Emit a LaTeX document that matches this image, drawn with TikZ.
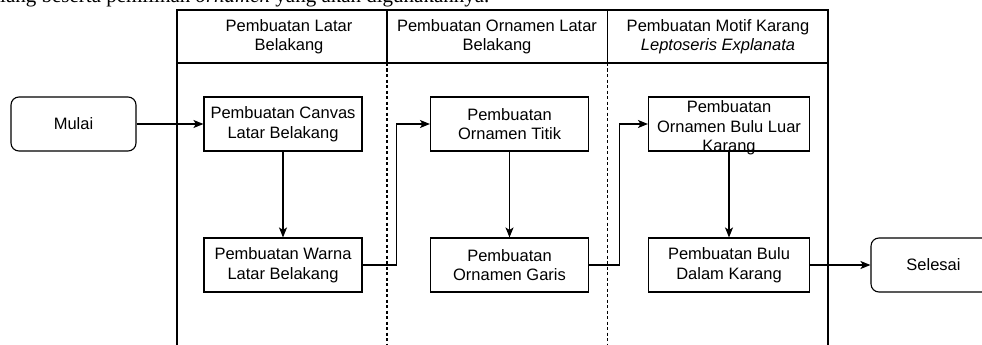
\documentclass[tikz,border=0pt]{standalone}
\usepackage{fontspec}
\setmainfont{Liberation Sans}
\newfontfamily\textserif{Liberation Serif}
\usetikzlibrary{positioning, arrows.meta}
\tikzset{
    x=1pt, y=-1pt, % one unit is one pixel of the source, y runs downward
    every node/.style={font=\fontsize{16.5}{19.5}\selectfont, align=center}, % text of every node
    proc/.style={draw, line width=1.1pt, minimum width=158pt, minimum height=54pt, inner sep=1pt}, % a process box
    term/.style={draw, line width=1.1pt, rounded corners=8pt, minimum width=125pt, minimum height=54pt}, % start and end
    flow/.style={-{Stealth[length=10pt, width=8pt, inset=2.5pt]}, line width=1.1pt}, % the arrows between steps
    lane/.style={line width=1.1pt}, % lines of the swimlane
    node distance=141pt, % from the top row to the bottom row
}

\begin{document}
\begin{tikzpicture}
    \useasboundingbox (0,0) rectangle (982,345);
    \clip (0,0) rectangle (982,345);
    % text of the page above the figure
    \node[anchor=base west, inner sep=0pt, font=\textserif\fontsize{21}{25}\selectfont] (intro) at (0,3) {lang beserta pemilihan \textit{ornamen} yang akan digunakannya.};
    % the pool
    \draw[lane] (177,10) rectangle (828,360);
    \draw[lane] (177,63) -- (828,63);
    \draw[lane] (387,10) -- (387,63);
    \draw[lane] (607.5,10) -- (607.5,63);
    \draw[lane, dash pattern=on 3pt off 2.5pt] (387,63) -- (387,360);
    \draw[lane, dash pattern=on 3pt off 2.5pt] (607.5,63) -- (607.5,360);
    \node (h1) at (289,36.5) {Pembuatan Latar\\Belakang};
    \node (h2) at (497,36.5) {Pembuatan Ornamen Latar\\Belakang};
    \node (h3) at (718,36.5) {Pembuatan Motif Karang\\\textit{Leptoseris Explanata}};
    % the steps
    \node[term] (mulai) at (73.5,124) {Mulai};
    \node[proc] (canvas) at (283,124) {Pembuatan Canvas\\Latar Belakang};
    \node[proc, below of=canvas] (warna) {Pembuatan Warna\\Latar Belakang};
    \node[proc] (titik) at (509.5,124) {Pembuatan\\Ornamen Titik};
    \node[proc, below of=titik] (garis) {Pembuatan\\Ornamen Garis};
    \node[proc, minimum width=161pt] (luar) at (729,124) {};
    \node[inner sep=0pt] (luartext) at (729,128) {Pembuatan\\Ornamen Bulu Luar\\Karang}; % text runs over the box
    \node[proc, minimum width=161pt, below of=luar] (dalam) {Pembuatan Bulu\\Dalam Karang};
    \node[term] (selesai) at (933.5,265) {Selesai};
    \draw[flow] (mulai) -- (canvas);
    \draw[flow] (canvas) -- (warna);
    \draw[flow] (warna.east) -- ++(34,0) |- (titik.west);
    \draw[flow] (titik) -- (garis);
    \draw[flow] (garis.east) -- ++(30,0) |- (luar.west);
    \draw[flow] (luar) -- (dalam);
    \draw[flow] (dalam) -- (selesai);
\end{tikzpicture}
\end{document}
